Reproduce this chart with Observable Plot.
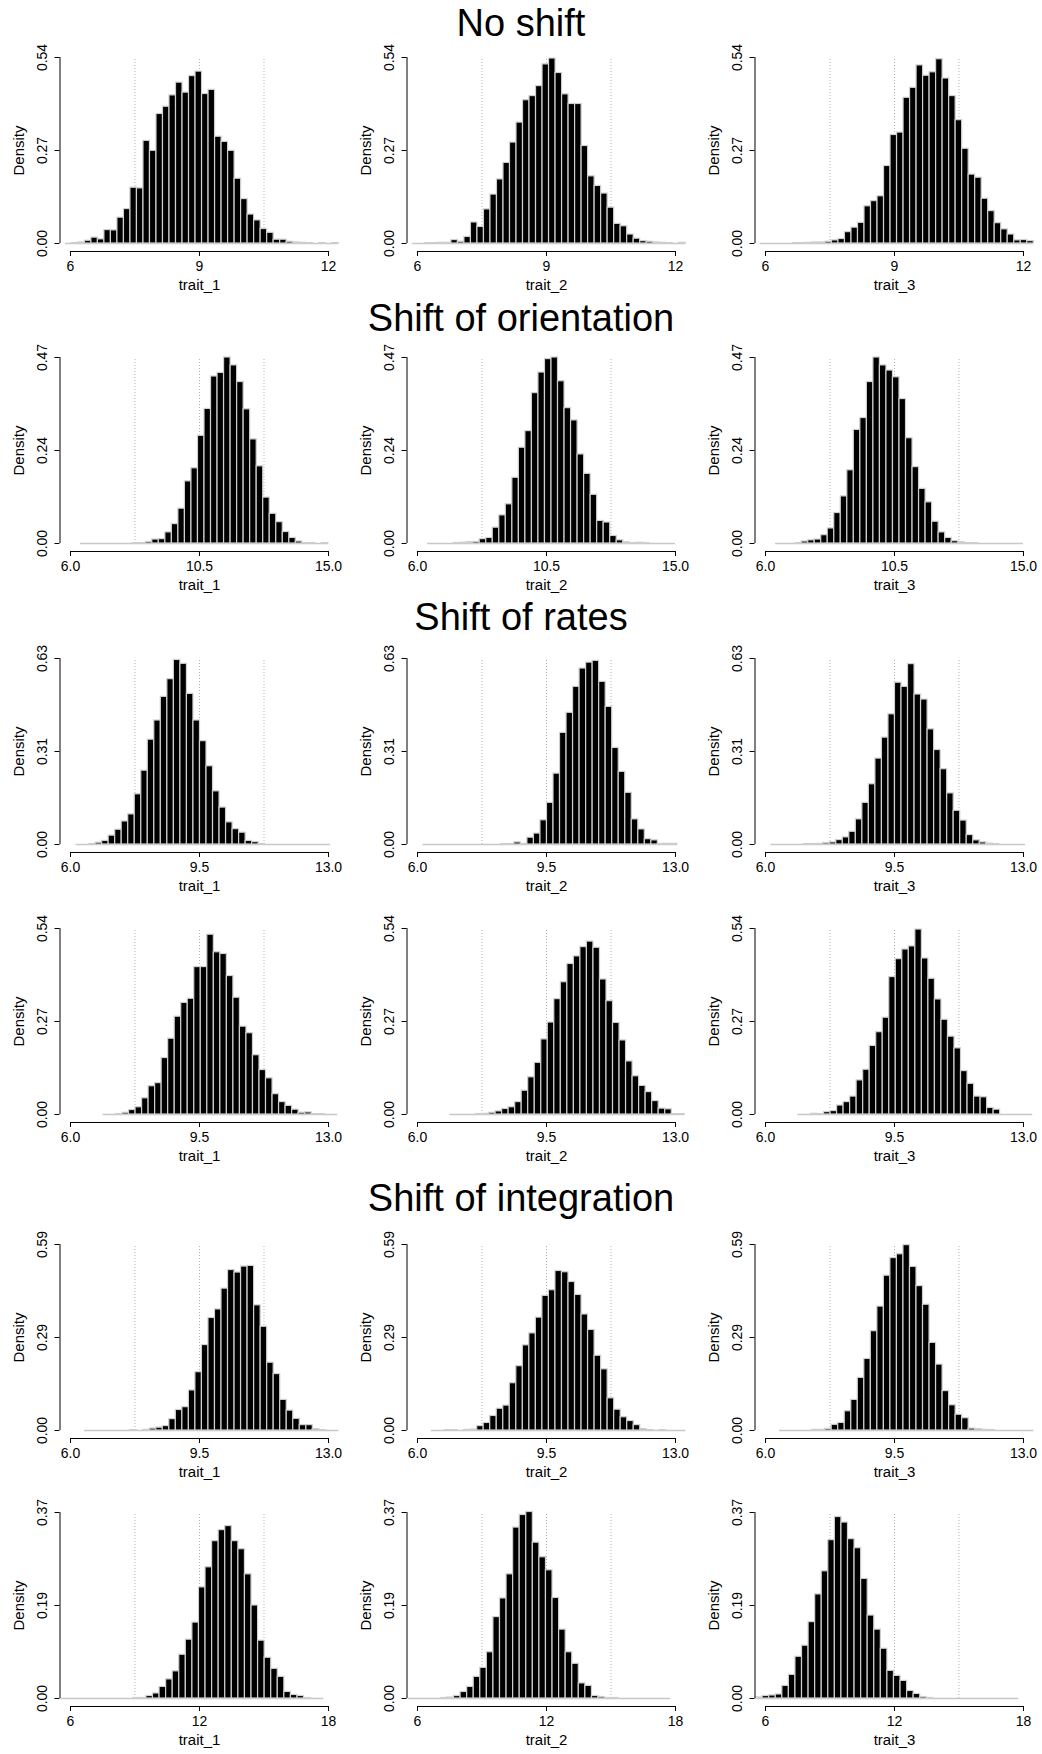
<!DOCTYPE html>
<html>
<head>
<meta charset="utf-8">
<script src="https://cdn.jsdelivr.net/npm/d3@7"></script>
<script src="https://cdn.jsdelivr.net/npm/@observablehq/plot@0.6"></script>
<style>
  html, body { margin: 0; padding: 0; background: #fff; }
  body { width: 1042px; height: 1754px; overflow: hidden; position: relative;
         font-family: "Liberation Sans", Arial, Helvetica, sans-serif; color: #000; }
  .title { position: absolute; left: 0; width: 1042px; text-align: center;
           font-size: 38px; line-height: 38px; white-space: nowrap; }
  .panel { position: absolute; }
</style>
</head>
<body>
<div id="fig"></div>
<script>
// ---- data -------------------------------------------------------------
const scenarioTitles = ["No shift", "Shift of orientation", "Shift of rates", "Shift of integration"];
const traitNames = ["trait_1", "trait_2", "trait_3"];

// histogram breaks for each row: first break and bin width
const breakStart = [5.88, 6.35, 6.15, 6.88, 6.38, 5.56];
const binWidth   = [0.1514, 0.2276, 0.177, 0.177, 0.177, 0.3055];

// axis ticks and their labels for each row
const xTicks = [[6, 9, 12], [6, 10.5, 15], [6, 9.5, 13], [6, 9.5, 13], [6, 9.5, 13], [6, 12, 18]];
const xTickLabels = [["6", "9", "12"], ["6.0", "10.5", "15.0"], ["6.0", "9.5", "13.0"],
                     ["6.0", "9.5", "13.0"], ["6.0", "9.5", "13.0"], ["6", "12", "18"]];
const yMax = [0.54, 0.47, 0.63, 0.54, 0.59, 0.37];
const yTickLabels = [["0.00", "0.27", "0.54"], ["0.00", "0.24", "0.47"], ["0.00", "0.31", "0.63"],
                     ["0.00", "0.27", "0.54"], ["0.00", "0.29", "0.59"], ["0.00", "0.19", "0.37"]];

// densities per bin: rows (scenarios) x traits
const noShift = [
  [0, 0.001, 0.003, 0.008, 0.017, 0.012, 0.039, 0.038, 0.075, 0.100, 0.162, 0.160, 0.298, 0.269,
   0.376, 0.397, 0.430, 0.467, 0.438, 0.486, 0.499, 0.434, 0.446, 0.310, 0.295, 0.269, 0.188,
   0.129, 0.084, 0.067, 0.042, 0.031, 0.011, 0.011, 0.005, 0.003, 0.002, 0.001, 0, 0.001, 0, 0.001],
  [0, 0, 0.001, 0.001, 0.002, 0.002, 0.010, 0.005, 0.019, 0.061, 0.048, 0.099, 0.142, 0.186,
   0.234, 0.293, 0.351, 0.416, 0.428, 0.457, 0.520, 0.537, 0.495, 0.433, 0.405, 0.405, 0.283,
   0.195, 0.167, 0.145, 0.104, 0.057, 0.050, 0.026, 0.014, 0.007, 0.005, 0.003, 0.002, 0.001, 0, 0.002],
  [0, 0, 0, 0, 0, 0.001, 0.001, 0.002, 0.003, 0.003, 0.005, 0.009, 0.013, 0.033,
   0.046, 0.060, 0.108, 0.123, 0.137, 0.225, 0.315, 0.322, 0.423, 0.452, 0.517, 0.487, 0.497,
   0.535, 0.479, 0.428, 0.358, 0.275, 0.200, 0.191, 0.130, 0.094, 0.059, 0.041, 0.026, 0.009, 0.010, 0.007]
];
const orientationShift = [
  [0, 0, 0, 0, 0, 0, 0, 0, 0.001, 0.001, 0.004, 0.010, 0.011, 0.028, 0.049, 0.088, 0.157, 0.190,
   0.272, 0.340, 0.422, 0.431, 0.470, 0.450, 0.408, 0.339, 0.263, 0.195, 0.116, 0.075, 0.054,
   0.029, 0.014, 0.005, 0.001, 0.001, 0, 0.001],
  [0, 0, 0, 0, 0.001, 0.002, 0.003, 0.004, 0.011, 0.014, 0.040, 0.071, 0.099, 0.166, 0.242, 0.284,
   0.380, 0.432, 0.466, 0.470, 0.410, 0.342, 0.311, 0.225, 0.176, 0.123, 0.057, 0.053, 0.019,
   0.008, 0.003, 0.001, 0.002, 0.001, 0, 0, 0, 0],
  [0, 0, 0, 0.001, 0.005, 0.008, 0.010, 0.021, 0.038, 0.077, 0.119, 0.185, 0.287, 0.317, 0.408,
   0.470, 0.450, 0.437, 0.420, 0.365, 0.266, 0.193, 0.138, 0.104, 0.055, 0.028, 0.014, 0.006,
   0.003, 0.001, 0.001, 0, 0, 0, 0, 0, 0, 0]
];
const ratesShiftA = [
  [0, 0, 0.001, 0.006, 0.012, 0.030, 0.050, 0.078, 0.102, 0.170, 0.250, 0.355, 0.420, 0.500,
   0.560, 0.625, 0.612, 0.510, 0.420, 0.350, 0.265, 0.180, 0.125, 0.075, 0.052, 0.040, 0.012,
   0.008, 0.002, 0, 0, 0, 0, 0, 0, 0, 0, 0, 0],
  [0, 0, 0, 0, 0, 0, 0, 0, 0, 0, 0, 0, 0.001, 0.001, 0.007, 0.002, 0.023, 0.037, 0.082, 0.141,
   0.240, 0.378, 0.446, 0.534, 0.596, 0.616, 0.622, 0.551, 0.466, 0.327, 0.246, 0.175, 0.085,
   0.051, 0.018, 0.014, 0.002, 0.002, 0.002],
  [0, 0, 0, 0, 0, 0.001, 0.001, 0.002, 0.005, 0.007, 0.015, 0.024, 0.043, 0.085, 0.141, 0.204,
   0.291, 0.362, 0.441, 0.548, 0.534, 0.611, 0.508, 0.491, 0.390, 0.320, 0.255, 0.173, 0.114,
   0.081, 0.032, 0.014, 0.007, 0.003, 0.001, 0, 0, 0, 0]
];
const ratesShiftB = [
  [0, 0, 0.001, 0.005, 0.013, 0.021, 0.047, 0.082, 0.091, 0.164, 0.220, 0.284, 0.324, 0.336,
   0.428, 0.428, 0.522, 0.471, 0.466, 0.402, 0.339, 0.255, 0.236, 0.172, 0.129, 0.105, 0.059,
   0.036, 0.025, 0.014, 0.005, 0.006, 0.001, 0.001, 0, 0],
  [0, 0, 0, 0, 0.001, 0.002, 0.005, 0.009, 0.016, 0.021, 0.036, 0.069, 0.108, 0.150, 0.218,
   0.267, 0.335, 0.384, 0.437, 0.459, 0.486, 0.502, 0.484, 0.392, 0.329, 0.266, 0.215, 0.154,
   0.111, 0.083, 0.065, 0.039, 0.017, 0.015, 0.001, 0.001],
  [0, 0, 0.002, 0.001, 0.007, 0.010, 0.026, 0.036, 0.052, 0.099, 0.130, 0.199, 0.239, 0.281,
   0.399, 0.451, 0.479, 0.488, 0.537, 0.453, 0.394, 0.334, 0.275, 0.226, 0.192, 0.126, 0.089,
   0.052, 0.050, 0.019, 0.014, 0, 0, 0, 0, 0]
];
const integrationShiftA = [
  [0, 0, 0, 0, 0, 0, 0, 0.001, 0, 0.002, 0.006, 0.009, 0.014, 0.036, 0.065, 0.074, 0.127, 0.185,
   0.271, 0.357, 0.384, 0.450, 0.509, 0.501, 0.520, 0.522, 0.397, 0.329, 0.215, 0.179, 0.097,
   0.063, 0.037, 0.017, 0.017, 0.004, 0.001, 0, 0],
  [0, 0, 0.001, 0.001, 0, 0.002, 0.003, 0.014, 0.024, 0.046, 0.069, 0.079, 0.150, 0.204, 0.270,
   0.308, 0.358, 0.427, 0.445, 0.506, 0.502, 0.471, 0.430, 0.368, 0.319, 0.237, 0.194, 0.102,
   0.066, 0.042, 0.030, 0.017, 0.004, 0.001, 0, 0.001, 0, 0, 0],
  [0, 0, 0, 0, 0, 0.002, 0.002, 0.005, 0.018, 0.024, 0.061, 0.097, 0.167, 0.227, 0.315, 0.393,
   0.491, 0.547, 0.559, 0.588, 0.519, 0.458, 0.399, 0.278, 0.209, 0.125, 0.080, 0.050, 0.039,
   0.006, 0.004, 0.002, 0.001, 0, 0, 0, 0, 0, 0]
];
const integrationShiftB = [
  [0, 0, 0, 0, 0, 0, 0, 0, 0, 0, 0, 0.001, 0.001, 0.005, 0.010, 0.023, 0.038, 0.054, 0.087, 0.117,
   0.151, 0.221, 0.261, 0.313, 0.335, 0.343, 0.313, 0.297, 0.247, 0.185, 0.115, 0.081, 0.059,
   0.043, 0.013, 0.007, 0.005, 0.001, 0, 0],
  [0, 0, 0, 0, 0, 0.001, 0.002, 0.005, 0.013, 0.023, 0.043, 0.061, 0.092, 0.162, 0.199, 0.247,
   0.340, 0.365, 0.371, 0.310, 0.281, 0.255, 0.200, 0.137, 0.092, 0.069, 0.030, 0.025, 0.005,
   0.003, 0.001, 0.001, 0, 0, 0, 0, 0, 0, 0, 0],
  [0.002, 0.005, 0.006, 0.008, 0.025, 0.047, 0.083, 0.105, 0.152, 0.207, 0.253, 0.315, 0.361,
   0.350, 0.317, 0.299, 0.238, 0.165, 0.137, 0.099, 0.055, 0.045, 0.035, 0.015, 0.009, 0.003,
   0.001, 0, 0, 0, 0, 0, 0, 0, 0, 0, 0, 0, 0, 0]
];
const densityRows = [noShift, orientationShift, ratesShiftA, ratesShiftB, integrationShiftA, integrationShiftB];

// ---- layout -----------------------------------------------------------
const PANEL_W = 1042 / 3;
const PANEL_H = 270;
const TOP = 20;          // y of the density maximum inside a panel
const BASE = 206;        // y of density 0 inside a panel
const GAP = 8;           // distance from the bars' baseline to the x axis line
const X_LO_PX = 70, X_HI_PX = 328, Y_AXIS_PX = 59.5;
const TICK_FONT = 14, LABEL_FONT = 15;
const rowBaseline = [243, 543, 844, 1114, 1430, 1698];
const titleBaseline = [36, 331, 630, 1211];

const fig = document.getElementById("fig");

scenarioTitles.forEach((t, i) => {
  const div = document.createElement("div");
  div.className = "title";
  div.textContent = t;
  div.style.top = (titleBaseline[i] - 32) + "px";
  fig.appendChild(div);
});

densityRows.forEach((rowDens, r) => {
  const [lo, mid, hi] = xTicks[r];
  const ymax = yMax[r];
  const start = breakStart[r];
  const w = binWidth[r];
  const yt = [0, ymax / 2, ymax];
  const guides = [0.25, 0.5, 0.75].map(f => lo + (hi - lo) * f);

  rowDens.forEach((vals, c) => {
    const bins = vals.map((d, k) => ({x1: start + k * w, x2: start + (k + 1) * w, d}));
    const end = start + vals.length * w;

    const svg = Plot.plot({
      width: PANEL_W,
      height: PANEL_H,
      marginLeft: Y_AXIS_PX,
      marginRight: 0,
      marginTop: TOP,
      marginBottom: PANEL_H - BASE - GAP,
      x: {domain: [lo, hi], range: [X_LO_PX, X_HI_PX]},
      y: {domain: [0, ymax], range: [BASE, TOP]},
      style: {
        fontFamily: "'Liberation Sans', Arial, Helvetica, sans-serif",
        fontSize: TICK_FONT + "px",
        background: "transparent",
        overflow: "visible",
        color: "#000"
      },
      marks: [
        // dotted reference lines at the quarters of the axis range
        Plot.ruleX(guides, {x: d => d, y1: () => 0, y2: () => ymax,
                            stroke: "#b0b0b0", strokeWidth: 1, strokeDasharray: "1,2"}),
        // empty bins show as a grey line along zero
        Plot.ruleY([0], {x1: () => start, x2: () => end, stroke: "#c8c8c8", strokeWidth: 1.3}),
        Plot.rect(bins, {x1: "x1", x2: "x2", y1: () => 0, y2: "d", inset: 0,
                         fill: "#000", stroke: "#cfcfcf", strokeWidth: 1.2}),
        // x axis
        Plot.ruleY([0], {x1: () => lo, x2: () => hi, dy: GAP, stroke: "#000", strokeWidth: 1}),
        Plot.axisX({ticks: xTicks[r], tickSize: 5, tickFormat: () => "", label: null}),
        Plot.text(xTicks[r], {x: d => d, y: () => 0, dy: GAP + 15, text: (d, i) => xTickLabels[r][i],
                              fontSize: TICK_FONT, lineAnchor: "middle"}),
        Plot.text([traitNames[c]], {x: () => (lo + hi) / 2, y: () => 0, dy: GAP + 34, text: d => d,
                                    fontSize: LABEL_FONT, lineAnchor: "middle"}),
        // y axis
        Plot.ruleX([lo], {x: d => d, y1: () => 0, y2: () => ymax, dx: Y_AXIS_PX - X_LO_PX,
                          stroke: "#000", strokeWidth: 1}),
        Plot.axisY({ticks: yt, tickSize: 5, tickFormat: () => "", label: null}),
        Plot.text(yt, {y: d => d, frameAnchor: "left", dx: -17.5, rotate: -90,
                       text: (d, i) => yTickLabels[r][i], fontSize: TICK_FONT,
                       textAnchor: "middle", lineAnchor: "middle"}),
        Plot.text(["Density"], {y: () => ymax / 2, frameAnchor: "left", dx: -40.5, rotate: -90,
                                text: d => d, fontSize: LABEL_FONT, textAnchor: "middle", lineAnchor: "middle"})
      ]
    });

    const holder = document.createElement("div");
    holder.className = "panel";
    holder.style.left = (c * PANEL_W) + "px";
    holder.style.top = (rowBaseline[r] - BASE) + "px";
    holder.style.width = PANEL_W + "px";
    holder.appendChild(svg);
    fig.appendChild(holder);
  });
});
</script>
</body>
</html>
